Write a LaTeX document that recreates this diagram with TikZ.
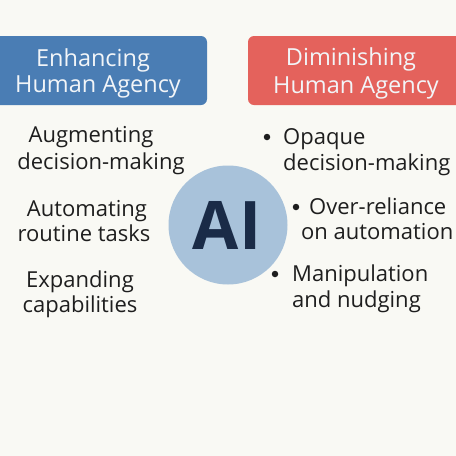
\documentclass[tikz,border=0pt]{standalone}
\usepackage{fontspec}
\setmainfont{Open Sans}
\definecolor{bg}{HTML}{F9F9F4}
\definecolor{boxblue}{HTML}{4A7DB4}
\definecolor{boxred}{HTML}{E4625C}
\definecolor{titletxt}{HTML}{F2F5F8}
\definecolor{circfill}{HTML}{A8C2DA}
\definecolor{aitxt}{HTML}{1A2B47}
\definecolor{bodytxt}{HTML}{1E1E1E}
\begin{document}
\begin{tikzpicture}[x=1pt,y=-1pt,
  titlebox/.style={rounded corners=6pt},
  titletext/.style={text=titletxt,font=\fontsize{23.5}{27}\selectfont,inner sep=0,anchor=base},
  bodyc/.style={text=bodytxt,font=\fontsize{22}{26}\selectfont,inner sep=0,anchor=base},
  bodyw/.style={text=bodytxt,font=\fontsize{22}{26}\selectfont,inner sep=0,anchor=base west},
  bulletdot/.style={circle,fill=bodytxt,inner sep=0,minimum size=6.5pt}]
\fill[bg] (0,0) rectangle (456,456);
\useasboundingbox (0,0) rectangle (456,456);
% title boxes
\fill[boxblue,titlebox] (-20,36) rectangle (207,105);
\fill[boxred,titlebox] (248,36) rectangle (476,105);
\node[titletext] (t1a) at (93,66) {Enhancing};
\node[titletext] (t1b) at (98,92) {Human Agency};
\node[titletext] (t2a) at (351,65) {Diminishing};
\node[titletext] (t2b) at (356,93) {Human Agency};
% AI circle
\node[circle,fill=circfill,minimum size=119pt,inner sep=0] (ai) at (228,225) {};
\node[text=aitxt,font=\fontsize{67}{70}\selectfont\bfseries,inner sep=0] (ailabel) at (227,225) {AI};
% left items
\node[bodyc] (l1a) at (91,142) {Augmenting};
\node[bodyc] (l1b) at (101,169) {decision-making};
\node[bodyc] (l2a) at (87,216) {Automating};
\node[bodyc] (l2b) at (84,241) {routine tasks};
\node[bodyc] (l3a) at (80,287) {Expanding};
\node[bodyc] (l3b) at (80,312) {capabilities};
% right items
\node[bulletdot] (b1) at (267,137) {};
\node[bodyw] (r1a) at (283,144) {Opaque};
\node[bodyw] (r1b) at (283,170) {decision-making};
\node[bulletdot] (b2) at (296,207) {};
\node[bodyw] (r2a) at (309,214) {Over-reliance};
\node[bodyw] (r2b) at (301,239) {on automation};
\node[bulletdot] (b3) at (275,274) {};
\node[bodyw] (r3a) at (292,281) {Manipulation};
\node[bodyw] (r3b) at (292,307) {and nudging};
\end{tikzpicture}
\end{document}
